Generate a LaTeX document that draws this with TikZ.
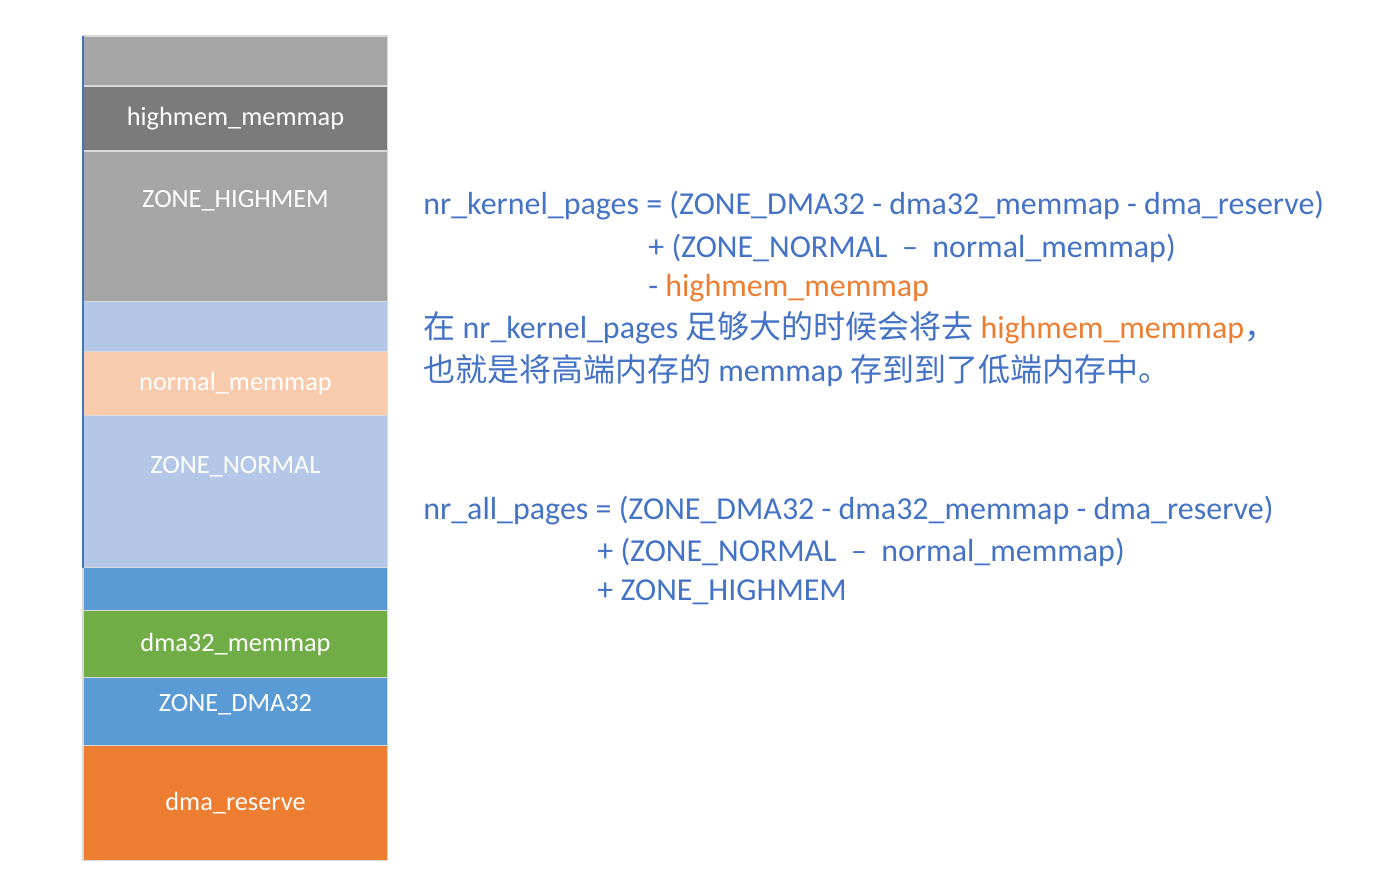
\documentclass[tikz,border=0pt]{standalone}
\usepackage{fontspec}
\setmainfont{Carlito}
\newfontfamily\cjk{Noto Sans CJK SC}
\usetikzlibrary{
positioning
}
\definecolor{grayblk}{HTML}{A5A5A5}
\definecolor{darkgrayblk}{HTML}{7B7B7B}
\definecolor{lightblueblk}{HTML}{B4C7E7}
\definecolor{peachblk}{HTML}{F8CBAD}
\definecolor{blueblk}{HTML}{5B9BD5}
\definecolor{greenblk}{HTML}{70AD47}
\definecolor{orangeblk}{HTML}{ED7D31}
\definecolor{txtblue}{HTML}{4472C4}
\tikzset{
memblk/.style={
draw=gray!30,
line width=0.6pt,
minimum width=6.1cm,
inner sep=0pt,
outer sep=0pt,
text=white,
font=\fontsize{15}{18}\selectfont
},
blktxt/.style={
inner sep=0pt,
text=white,
font=\fontsize{15}{18}\selectfont
},
formula/.style={
anchor=base west,
inner sep=0pt,
text=txtblue,
font=\fontsize{18.2}{22}\selectfont
}
}
\begin{document}
\begin{tikzpicture}[x=0.02cm, y=-0.02cm, node distance=0cm]
\useasboundingbox (0,0) rectangle (1384,896);
% memory column, top to bottom
\node[memblk, fill=grayblk, minimum height=1cm, anchor=north west] (top) at (83,36) {};
\node[memblk, fill=darkgrayblk, minimum height=1.3cm, below=of top] (hmap) {highmem\_memmap};
\node[memblk, fill=grayblk, minimum height=3.02cm, below=of hmap] (zhigh) {};
\node[memblk, fill=lightblueblk, minimum height=1cm, below=of zhigh] (nfree) {};
\node[memblk, fill=peachblk, minimum height=1.28cm, below=of nfree] (nmap) {normal\_memmap};
\node[memblk, fill=lightblueblk, minimum height=3.04cm, below=of nmap] (znormal) {};
\node[memblk, fill=blueblk, minimum height=0.86cm, below=of znormal] (dfree) {};
\node[memblk, fill=greenblk, minimum height=1.34cm, below=of dfree] (dmap) {dma32\_memmap};
\node[memblk, fill=blueblk, minimum height=1.36cm, below=of dmap] (zdma) {};
\node[memblk, fill=orangeblk, minimum height=2.3cm, below=of zdma] (dres) {dma\_reserve};

\node[blktxt] (zhighlbl) at ([yshift=-1cm]zhigh.north) {ZONE\_HIGHMEM};
\node[blktxt] (znormallbl) at ([yshift=-1.02cm]znormal.north) {ZONE\_NORMAL};
\node[blktxt] (zdmalbl) at ([yshift=0.14cm]zdma.center) {ZONE\_DMA32};

\draw[txtblue, line width=0.8pt] (znormal.south west) -- (top.north west);

% formulas
\node[formula] (kp1) at (423,214) {nr\_kernel\_pages = (ZONE\_DMA32 - dma32\_memmap - dma\_reserve)};
\node[formula] (kp2) at (648,257) {+ (ZONE\_NORMAL\ \ –\ \ normal\_memmap)};
\node[formula] (kp3) at (648,296) {- \textcolor{orangeblk}{highmem\_memmap}};
\node[formula] (note1) at (423,338) {{\cjk 在} nr\_kernel\_pages {\cjk 足够大的时候会将去} \textcolor{orangeblk}{highmem\_memmap}{\cjk ，}};
\node[formula] (note2) at (423,381) {{\cjk 也就是将高端内存的} memmap {\cjk 存到到了低端内存中。}};

\node[formula] (ap1) at (423,519) {nr\_all\_pages = (ZONE\_DMA32 - dma32\_memmap - dma\_reserve)};
\node[formula] (ap2) at (597,561) {+ (ZONE\_NORMAL\ \ –\ \ normal\_memmap)};
\node[formula] (ap3) at (597,600) {+ ZONE\_HIGHMEM};
\end{tikzpicture}
\end{document}
